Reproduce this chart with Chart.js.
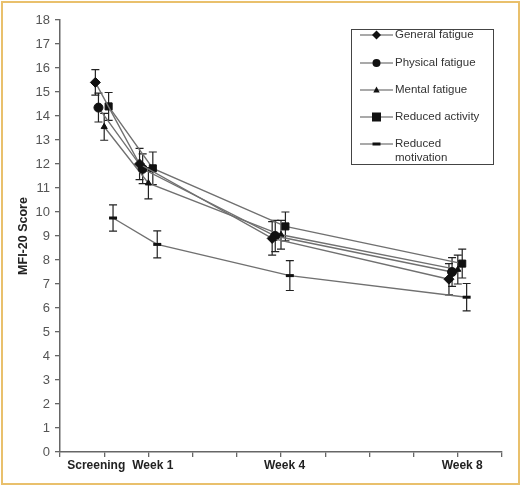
<!DOCTYPE html>
<html>
<head>
<meta charset="utf-8">
<script src="https://cdn.jsdelivr.net/npm/chart.js"></script>
<style>
  html, body { margin: 0; padding: 0; background: #fff; }
  #wrap { position: relative; width: 520px; height: 485px; }
  #frame { position: absolute; left: 1px; top: 1px; width: 515px; height: 480px;
           border: 2px solid #e9c06c; pointer-events: none; }
</style>
</head>
<body>
<div id="wrap">
  <canvas id="mfi" width="520" height="485"></canvas>
  <div id="frame"></div>
</div>
<script>
// visit weeks (Screening = week 0)
const weeks = [0, 1, 4, 8];
const xTickWeeks = [0, 1, 4, 8];
const xTickLabels = ['Screening', 'Week 1', 'Week 4', 'Week 8'];

const seriesNames = ['General fatigue', 'Physical fatigue', 'Mental fatigue', 'Reduced activity', 'Reduced motivation'];

const generalFatigue = [15.4, 12.0, 8.9, 7.2];
const generalFatigueErr = [0.53, 0.65, 0.7, 0.65];
const physicalFatigue = [14.35, 11.8, 9.0, 7.5];
const physicalFatigueErr = [0.6, 0.62, 0.65, 0.6];
const mentalFatigue = [13.55, 11.2, 9.05, 7.6];
const mentalFatigueErr = [0.56, 0.65, 0.6, 0.6];
const reducedActivity = [14.4, 11.82, 9.4, 7.85];
const reducedActivityErr = [0.58, 0.68, 0.6, 0.6];
const reducedMotivation = [9.75, 8.65, 7.35, 6.45];
const reducedMotivationErr = [0.55, 0.56, 0.62, 0.57];

const allValues = [generalFatigue, physicalFatigue, mentalFatigue, reducedActivity, reducedMotivation];
const allErrs = [generalFatigueErr, physicalFatigueErr, mentalFatigueErr, reducedActivityErr, reducedMotivationErr];

// small horizontal dodge so the error bars don't sit on top of each other
const dodge = [-0.2, -0.13, 0, 0.1, 0.2];
const markers = ['rectRot', 'circle', 'triangle', 'rect', 'line'];
const markerSize = [5, 4.5, 3.5, 5, 4];
// the category labels sit a little off their tick marks in the original
const labelShift = [-0.18, 0.1, 0.08, 0.1];

const ctx = document.getElementById('mfi');
const font = '"Liberation Sans", Arial, sans-serif';

const datasets = seriesNames.map((name, i) => ({
  label: name,
  data: weeks.map((w, j) => ({ x: w + dodge[i], y: allValues[i][j], err: allErrs[i][j] })),
  borderColor: '#707070',
  borderWidth: 1.4,
  pointStyle: markers[i],
  pointRadius: markerSize[i],
  pointBackgroundColor: '#111',
  pointBorderColor: '#111',
  pointBorderWidth: i == 4 ? 3 : 1,
  tension: 0
}));

const errorBars = {
  id: 'errorBars',
  beforeDatasetsDraw(chart) {
    const c = chart.ctx;
    const xs = chart.scales.x, ys = chart.scales.y;
    c.save();
    c.strokeStyle = '#222';
    c.lineWidth = 1.2;
    chart.data.datasets.forEach(ds => {
      ds.data.forEach(p => {
        const px = xs.getPixelForValue(p.x);
        const top = ys.getPixelForValue(p.y + p.err);
        const bot = ys.getPixelForValue(p.y - p.err);
        c.beginPath();
        c.moveTo(px, top); c.lineTo(px, bot);
        c.moveTo(px - 4, top); c.lineTo(px + 4, top);
        c.moveTo(px - 4, bot); c.lineTo(px + 4, bot);
        c.stroke();
      });
    });
    c.restore();
  }
};

function drawMarker(c, style, x, y) {
  c.fillStyle = '#111';
  c.beginPath();
  if (style == 'rectRot') {
    c.moveTo(x, y - 4.5); c.lineTo(x + 4.5, y); c.lineTo(x, y + 4.5); c.lineTo(x - 4.5, y); c.closePath(); c.fill();
  } else if (style == 'circle') {
    c.arc(x, y, 4, 0, Math.PI * 2); c.fill();
  } else if (style == 'triangle') {
    c.moveTo(x, y - 3.5); c.lineTo(x + 3.2, y + 2.5); c.lineTo(x - 3.2, y + 2.5); c.closePath(); c.fill();
  } else if (style == 'rect') {
    c.fillRect(x - 4.5, y - 4.5, 9, 9);
  } else {
    c.fillRect(x - 4, y - 1.5, 8, 3);
  }
}

const boxLegend = {
  id: 'boxLegend',
  afterDraw(chart) {
    const c = chart.ctx;
    const left = 351, top = 29, w = 142, h = 135;
    c.save();
    c.fillStyle = '#fff';
    c.fillRect(left, top, w, h);
    c.strokeStyle = '#444';
    c.lineWidth = 1;
    c.strokeRect(left + 0.5, top + 0.5, w, h);
    const rows = [35, 63, 90, 117, 144];
    c.font = '11.5px ' + font;
    c.textBaseline = 'middle';
    seriesNames.forEach((name, i) => {
      const y = rows[i];
      c.strokeStyle = '#555';
      c.lineWidth = 1.2;
      c.beginPath(); c.moveTo(360, y); c.lineTo(393, y); c.stroke();
      drawMarker(c, markers[i], 376.5, y);
      c.fillStyle = '#333';
      if (i == 4) {
        c.fillText('Reduced', 395, y);
        c.fillText('motivation', 395, y + 14);
      } else {
        c.fillText(name, 395, y);
      }
    });
    c.restore();
  }
};

const grid = { drawOnChartArea: false, drawTicks: true, tickLength: 5, color: '#666', lineWidth: 1.3 };

new Chart(ctx, {
  type: 'line',
  data: { datasets: datasets },
  plugins: [errorBars, boxLegend],
  options: {
    responsive: false,
    animation: false,
    layout: { padding: { top: 20, right: 18, left: 0, bottom: 0 } },
    plugins: { legend: { display: false }, tooltip: { enabled: false } },
    scales: {
      x: {
        type: 'linear',
        min: -1,
        max: 9,
        afterFit: s => { s.height = 6; },
        afterBuildTicks: s => { s.ticks = []; for (let v = -1; v <= 9; v++) s.ticks.push({ value: v }); },
        ticks: { display: false },
        grid: grid,
        border: { color: '#666', width: 1.5 }
      },
      xl: {
        type: 'linear',
        position: 'bottom',
        min: -1,
        max: 9,
        afterFit: s => { s.height = 27; },
        afterBuildTicks: s => { s.ticks = xTickWeeks.map((w, k) => ({ value: w + labelShift[k] })); },
        ticks: {
          autoSkip: false,
          maxRotation: 0,
          padding: 0,
          color: '#222',
          font: { family: font, size: 12, weight: 'bold' },
          callback: (v, k) => xTickLabels[k]
        },
        grid: { display: false, drawTicks: false },
        border: { display: false }
      },
      y: {
        min: 0,
        max: 18,
        afterFit: s => { s.width = 60; },
        ticks: {
          stepSize: 1,
          padding: 5,
          color: '#555',
          font: { family: font, size: 13 }
        },
        grid: grid,
        border: { color: '#666', width: 1.5 },
        title: {
          display: true,
          text: 'MFI-20 Score',
          color: '#222',
          padding: { top: 16, bottom: 0 },
          font: { family: font, size: 12.5, weight: 'bold' }
        }
      }
    }
  }
});
</script>
</body>
</html>
